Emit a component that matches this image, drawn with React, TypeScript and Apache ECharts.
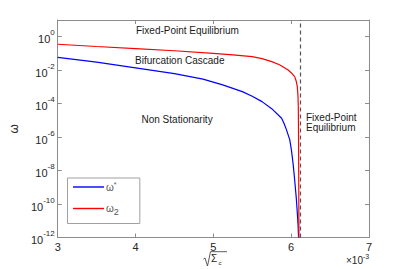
import React, { useEffect, useRef } from "react";
import * as echarts from "echarts";

// sqrt(Sigma_c) (x1e-3) and omega values
const xStar = [3.0, 3.5, 4.0, 4.5, 4.867, 5.12, 5.372, 5.5, 5.625, 5.75, 5.877, 5.91, 5.94, 5.982, 6.003, 6.025, 6.045, 6.065, 6.079, 6.088, 6.095];
const omegaStar = [5.9e-2, 3.0e-2, 1.38e-2, 6.2e-3, 2.95e-3, 1.32e-3, 5.25e-4, 2.8e-4, 1.32e-4, 5.0e-5, 1.35e-5, 6.3e-6, 2.7e-6, 6.8e-7, 1.74e-7, 2.5e-8, 2.75e-9, 2.5e-10, 2.95e-11, 6.3e-12, 1e-12];

const xTwo = [3.0, 3.5, 4.0, 4.5, 5.0, 5.25, 5.498, 5.625, 5.751, 5.85, 5.961, 6.0, 6.045, 6.065, 6.079, 6.088, 6.092, 6.095, 6.1];
const omegaTwo = [0.355, 0.26, 0.195, 0.145, 0.102, 0.083, 0.0645, 0.049, 0.0324, 0.021, 0.0102, 7.1e-3, 4.1e-3, 2.2e-3, 1.02e-3, 2.6e-4, 5.0e-5, 6.8e-7, 1e-12];

const criticalX = 6.117;
const yExponents = [-12, -10, -8, -6, -4, -2, 0];
const xTicks = [3, 4, 5, 6, 7];

const FONT = "'Liberation Sans', Arial, Helvetica, sans-serif";
const AXIS = "#8c8c8c";
const LABEL = "#262626";

export default function App() {
  const ref = useRef<HTMLDivElement>(null);
  useEffect(() => {
    if (!ref.current) return;
    const chart = echarts.init(ref.current, undefined, { renderer: "svg" });
    const starData = xStar.map((x, i) => [x, Math.log10(omegaStar[i])]);
    const twoData = xTwo.map((x, i) => [x, Math.log10(omegaTwo[i])]);
    const baseAxisX = {
      type: "value" as const,
      min: 3,
      max: 7,
      interval: 1,
      axisLine: { onZero: false, lineStyle: { color: AXIS, width: 1 } },
      axisTick: { inside: true, length: 4, lineStyle: { color: AXIS }, customValues: xTicks },
      splitLine: { show: false },
    };
    const baseAxisY = {
      type: "value" as const,
      min: -12,
      max: 1,
      interval: 2,
      axisLine: { show: true, onZero: false, lineStyle: { color: AXIS, width: 1 } },
      axisTick: { inside: true, length: 4, lineStyle: { color: AXIS }, customValues: yExponents },
      splitLine: { show: false },
    };
    chart.setOption({
      animation: false,
      textStyle: { fontFamily: FONT },
      grid: { left: 52, top: 20, width: 317, height: 217.5 },
      xAxis: [
        {
          ...baseAxisX,
          position: "bottom",
          axisLabel: { color: LABEL, fontSize: 11, margin: 4, fontFamily: FONT, customValues: xTicks },
        },
        { ...baseAxisX, position: "top", axisLabel: { show: false } },
      ],
      yAxis: [
        {
          ...baseAxisY,
          position: "left",
          name: "ω",
          nameLocation: "middle",
          nameRotate: 90,
          nameGap: 36,
          nameTextStyle: { color: LABEL, fontSize: 12, fontFamily: FONT },
          axisLabel: {
            customValues: yExponents,
            margin: 3,
            formatter: (v: number) => `{b|10}{s|${v}}`,
            rich: {
              b: { fontSize: 11, color: LABEL, fontFamily: FONT, verticalAlign: "bottom", lineHeight: 16, padding: [4, 0, 0, 0] },
              s: { fontSize: 8, color: LABEL, fontFamily: FONT, verticalAlign: "top", lineHeight: 16, padding: [0, 0, 6, 0] },
            },
          },
        },
        { ...baseAxisY, position: "right", axisLabel: { show: false } },
      ],
      legend: {
        orient: "vertical",
        left: 67.5,
        top: 178,
        padding: [3, 21, 7.5, 5.5],
        itemWidth: 31,
        itemHeight: 1.4,
        itemGap: 8,
        icon: "rect",
        backgroundColor: "#fff",
        borderColor: "#a0a0a0",
        borderWidth: 1,
        borderRadius: 0,
        data: [
          { name: "ω*", icon: "rect" },
          { name: "ω2", icon: "rect" },
        ],
        formatter: (name: string) => (name === "ω*" ? "{w|ω}{sup|*}" : "{w|ω}{sub|2}"),
        textStyle: {
          padding: [0, 0, 0, -3],
          rich: {
            w: { fontSize: 10, color: "#555", fontFamily: FONT, lineHeight: 15 },
            sup: { fontSize: 7, color: "#555", fontFamily: FONT, lineHeight: 15, padding: [0, 0, 5, 0] },
            sub: { fontSize: 9, color: "#555", fontFamily: FONT, lineHeight: 15, padding: [6, 0, 0, 0] },
          },
        },
      },
      series: [
        {
          name: "ω*",
          type: "line",
          data: starData,
          symbol: "none",
          lineStyle: { color: "#0000ff", width: 1.2 },
          itemStyle: { color: "#0000ff" },
          clip: true,
        },
        {
          name: "ω2",
          type: "line",
          data: twoData,
          symbol: "none",
          lineStyle: { color: "#ff0000", width: 1.2 },
          itemStyle: { color: "#ff0000" },
          clip: true,
          markLine: {
            silent: true,
            symbol: "none",
            label: { show: false },
            lineStyle: { color: "#555", type: [4, 3], width: 1.2 },
            data: [{ xAxis: criticalX }],
          },
        },
      ],
      graphic: [
        { type: "text", left: 136, top: 25, style: { text: "Fixed-Point Equilibrium", fontSize: 10, fill: "#1a1a1a", fontFamily: FONT } },
        { type: "text", left: 135, top: 55.5, style: { text: "Bifurcation Cascade", fontSize: 10, fill: "#1a1a1a", fontFamily: FONT } },
        { type: "text", left: 141.5, top: 114, style: { text: "Non Stationarity", fontSize: 10, fill: "#1a1a1a", fontFamily: FONT } },
        { type: "text", left: 306, top: 112, style: { text: "Fixed-Point", fontSize: 10, fill: "#1a1a1a", fontFamily: FONT } },
        { type: "text", left: 306, top: 122, style: { text: "Equilibrium", fontSize: 10, fill: "#1a1a1a", fontFamily: FONT } },
        {
          type: "polyline",
          shape: { points: [[203.5, 259], [205, 258], [207.5, 266], [210.5, 251.7], [227, 251.7]] },
          style: { stroke: "#333", lineWidth: 0.8, fill: "none" },
        },
        { type: "text", x: 211, y: 253.5, style: { text: "Σ", fontSize: 10, fill: "#262626", fontFamily: FONT } },
        { type: "text", x: 218.5, y: 259.5, style: { text: "c", fontSize: 6, fill: "#262626", fontFamily: FONT } },
        { type: "text", x: 346, y: 255, style: { text: "×10", fontSize: 10, fill: "#262626", fontFamily: FONT } },
        { type: "text", x: 363, y: 253, style: { text: "-3", fontSize: 7, fill: "#262626", fontFamily: FONT } },
      ],
    });
    return () => chart.dispose();
  }, []);
  return <div ref={ref} style={{ position: "fixed", left: 0, top: 0, width: 407, height: 269, background: "#fff" }} />;
}
